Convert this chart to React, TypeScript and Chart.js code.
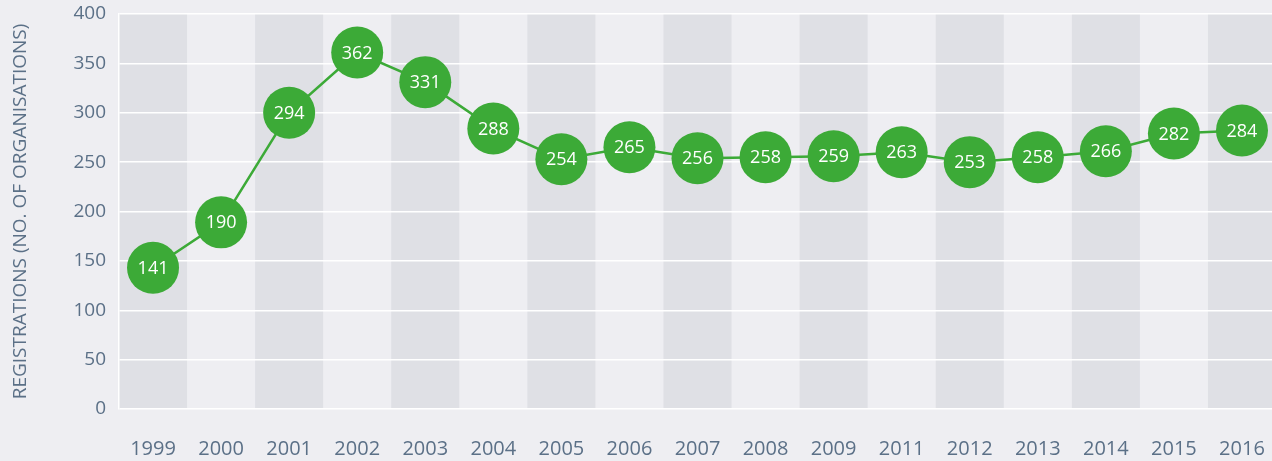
import React, { useEffect, useRef } from 'react';
import { Chart, registerables } from 'chart.js';

Chart.register(...registerables);

const years = ['1999', '2000', '2001', '2002', '2003', '2004', '2005', '2006', '2007', '2008', '2009', '2011', '2012', '2013', '2014', '2015', '2016'];
// positions of the markers as drawn in the picture
const plottedValues = [143, 189, 300, 361, 331, 284, 253, 265, 254, 255, 256, 260, 250, 255, 261, 279, 282];
// numbers printed inside the markers
const printedLabels = ['141', '190', '294', '362', '331', '288', '254', '265', '256', '258', '259', '263', '253', '258', '266', '282', '284'];
const yTicks = [0, 50, 100, 150, 200, 250, 300, 350, 400];
const yTitle = 'REGISTRATIONS (NO. OF ORGANISATIONS)';

const GREEN = '#3caa37';
const BG = '#eeeef2';
const BAND = '#dfe0e5';
const TEXT = '#5b7087';
const FONT = "'Open Sans', 'DejaVu Sans', sans-serif";

const bandsPlugin = {
  id: 'bands',
  beforeDraw(chart: any) {
    const { ctx, chartArea, scales } = chart;
    const x = scales.x;
    ctx.save();
    ctx.fillStyle = BG;
    ctx.fillRect(0, 0, chart.width, chart.height);
    const n = years.length;
    const w = (chartArea.right - chartArea.left) / n;
    ctx.fillStyle = BAND;
    for (let i = 0; i < n; i += 2) {
      const c = x.getPixelForValue(i);
      ctx.fillRect(c - w / 2, chartArea.top, w, chartArea.bottom - chartArea.top);
    }
    ctx.restore();
  },
};

const labelsPlugin = {
  id: 'pointLabels',
  afterDatasetsDraw(chart: any) {
    const { ctx } = chart;
    const meta = chart.getDatasetMeta(0);
    ctx.save();
    ctx.fillStyle = '#ffffff';
    ctx.font = `18px ${FONT}`;
    ctx.textAlign = 'center';
    ctx.textBaseline = 'middle';
    meta.data.forEach((pt: any, i: number) => {
      ctx.fillText(printedLabels[i], pt.x, pt.y + 1);
    });
    ctx.restore();
  },
};

export default function App() {
  const ref = useRef<HTMLCanvasElement | null>(null);

  useEffect(() => {
    document.body.style.margin = '0';
    document.body.style.background = BG;
    const canvas = ref.current;
    if (!canvas) return;
    const chart = new Chart(canvas, {
      type: 'line',
      data: {
        labels: years,
        datasets: [
          {
            data: plottedValues,
            borderColor: GREEN,
            borderWidth: 2.5,
            backgroundColor: GREEN,
            pointBackgroundColor: GREEN,
            pointBorderColor: GREEN,
            pointBorderWidth: 0,
            pointRadius: 26,
            pointHoverRadius: 26,
            tension: 0,
            clip: false as any,
          },
        ],
      },
      options: {
        animation: false,
        responsive: false,
        devicePixelRatio: 1,
        events: [],
        layout: { autoPadding: false, padding: { top: 14, right: 0, bottom: 0, left: 0 } },
        plugins: {
          legend: { display: false },
          tooltip: { enabled: false },
        },
        scales: {
          x: {
            offset: true,
            afterFit(scale: any) {
              scale.height = 52;
              scale.paddingLeft = 0;
              scale.paddingRight = 0;
            },
            grid: { display: false, drawTicks: false },
            border: { display: false },
            ticks: {
              color: TEXT,
              font: { family: FONT, size: 20 },
              padding: 28,
              autoSkip: false,
              maxRotation: 0,
            },
          },
          y: {
            min: 0,
            max: 400,
            afterFit(scale: any) {
              scale.width = 119;
              scale.paddingTop = 0;
              scale.paddingBottom = 0;
            },
            afterBuildTicks(scale: any) {
              scale.ticks = yTicks.map((v) => ({ value: v }));
            },
            grid: { color: '#ffffff', lineWidth: 1.5, drawTicks: false },
            border: { display: true, color: '#ffffff', width: 1.5 },
            ticks: {
              color: TEXT,
              font: { family: FONT, size: 19 },
              padding: 13,
            },
            title: {
              display: true,
              text: yTitle,
              color: TEXT,
              font: { family: FONT, size: 19 },
              padding: { top: 9, bottom: 0 },
            },
          },
        },
      },
      plugins: [bandsPlugin, labelsPlugin],
    });
    return () => chart.destroy();
  }, []);

  return (
    <div style={{ width: 1272, height: 461, overflow: 'hidden', background: BG }}>
      <canvas ref={ref} width={1276} height={461} style={{ width: 1276, height: 461, display: 'block' }} />
    </div>
  );
}
